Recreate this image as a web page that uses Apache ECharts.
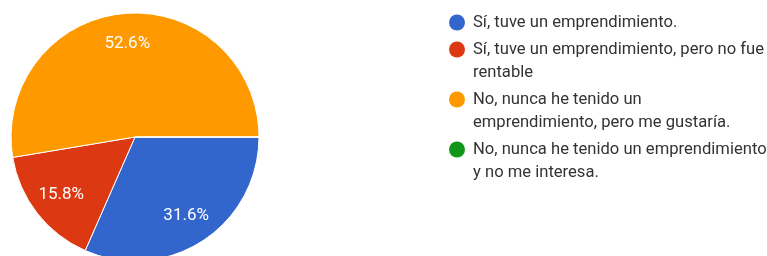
<!DOCTYPE html>
<html>
<head>
<meta charset="utf-8">
<script src="https://cdn.jsdelivr.net/npm/echarts@6/dist/echarts.min.js"></script>
<style>
html, body { margin: 0; padding: 0; background: #fff; }
#chart { width: 767px; height: 256px; }
</style>
</head>
<body>
<div id="chart"></div>
<script>
// respuestas (las líneas partidas como en la leyenda original)
var categories = [
	'Sí, tuve un emprendimiento.',
	'Sí, tuve un emprendimiento, pero no fue\nrentable',
	'No, nunca he tenido un\nemprendimiento, pero me gustaría.',
	'No, nunca he tenido un emprendimiento\ny no me interesa.'
];
var counts = [6, 3, 10, 0];
var colors = ['#3366cc', '#dc3912', '#ff9900', '#109618'];

var font = 'Roboto, "Liberation Sans", Arial, sans-serif';

var pieData = categories.map(function(c, i) {
	return { name: c, value: counts[i], itemStyle: { color: colors[i] } };
});

var rich = {
	t: { fontFamily: font, fontSize: 16.6, lineHeight: 23, color: '#333', verticalAlign: 'middle' },
	sp: { width: 8, height: 16, lineHeight: 23, verticalAlign: 'middle' },
	ind: { width: 24, height: 16, lineHeight: 23, verticalAlign: 'middle' }
};
colors.forEach(function(col, i) {
	rich['c' + i] = { width: 16, height: 16, lineHeight: 23, borderRadius: 8, backgroundColor: col, verticalAlign: 'middle' };
});

var chart = echarts.init(document.getElementById('chart'));
chart.setOption({
	animation: false,
	legend: {
		orient: 'vertical',
		left: 439,
		top: 6,
		icon: 'none',
		itemWidth: 0,
		itemHeight: 0,
		itemGap: 4,
		selectedMode: false,
		data: categories,
		textStyle: { fontFamily: font, fontSize: 16.6, lineHeight: 23, rich: rich },
		formatter: function(name) {
			var i = categories.indexOf(name);
			return name.split('\n').map(function(line, k) {
				return (k === 0 ? '{c' + i + '|}{sp|}' : '{ind|}') + '{t|' + line + '}';
			}).join('\n');
		}
	},
	series: [{
		type: 'pie',
		center: [135, 137],
		radius: 124,
		startAngle: 0,
		clockwise: true,
		silent: true,
		label: { show: false },
		labelLine: { show: false },
		itemStyle: { borderColor: '#fff', borderWidth: 1 },
		data: pieData
	}, {
		type: 'pie',
		center: [135, 137],
		radius: [57, 124],
		startAngle: 0,
		clockwise: true,
		silent: true,
		percentPrecision: 1,
		itemStyle: { color: 'transparent', borderWidth: 0 },
		label: {
			show: true,
			position: 'inside',
			color: '#fff',
			fontFamily: font,
			fontSize: 17,
			formatter: function(p) { return p.value ? p.percent.toFixed(1) + '%' : ''; }
		},
		labelLine: { show: false },
		data: pieData.map(function(d) { return { name: d.name, value: d.value }; })
	}]
});
</script>
</body>
</html>
